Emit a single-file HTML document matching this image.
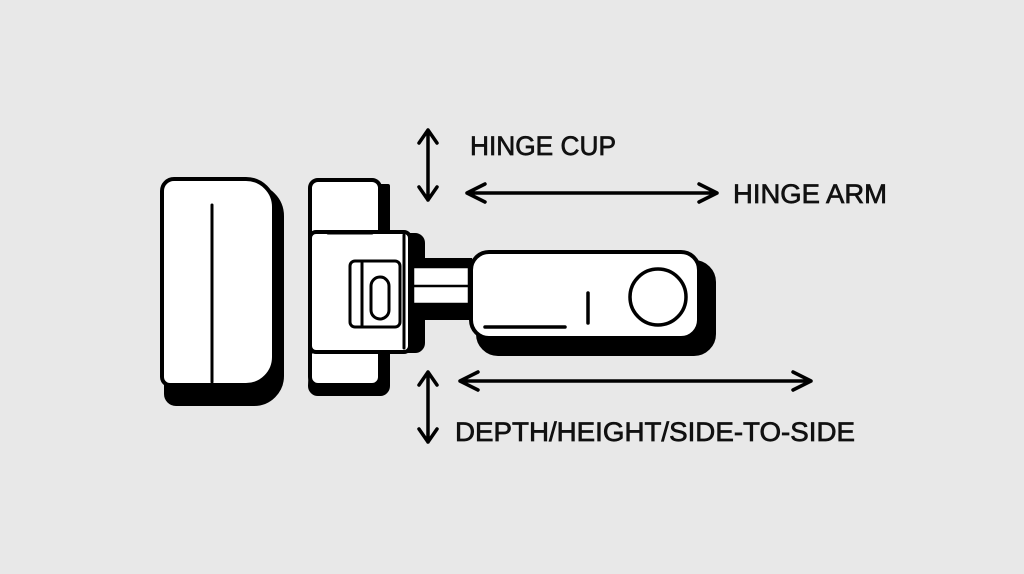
<!DOCTYPE html>
<html><head><style>html,body{margin:0;padding:0;background:#e8e8e8;}svg{display:block}</style></head>
<body>
<svg width="1024" height="574" viewBox="0 0 1024 574" xmlns="http://www.w3.org/2000/svg">
<rect width="1024" height="574" fill="#e8e8e8"/>
<g stroke="#000" stroke-width="4" stroke-linecap="round" stroke-linejoin="round" fill="none">
<path d="M172 186 h80 a30 30 0 0 1 30 30 v160 a28 28 0 0 1 -28 28 h-78 a10 10 0 0 1 -10 -10 v-196 a12 12 0 0 1 12 -12z" fill="#000"/>
<path d="M174 179 h72 a28 28 0 0 1 28 28 v150 a28 28 0 0 1 -28 28 h-76 a8 8 0 0 1 -8 -8 v-186 a12 12 0 0 1 12 -12z" fill="#fff"/>
<line x1="212" y1="205" x2="212" y2="382" stroke-width="3"/>
<path d="M318 186 h70 v200 a8 8 0 0 1 -8 8 h-62 a8 8 0 0 1 -8 -8z" fill="#000"/>
<path d="M330 235 h85 a8 8 0 0 1 8 8 v100 a8 8 0 0 1 -8 8 h-85z" fill="#000"/>
<rect x="310" y="180" width="70" height="205" rx="8" fill="#fff"/>
<rect x="310" y="232" width="100" height="120" rx="6" fill="#fff"/>
<line x1="328" y1="233" x2="372" y2="233" stroke-width="3"/>
<line x1="310" y1="352" x2="372" y2="352" stroke-width="3"/>
<line x1="404" y1="235" x2="404" y2="348" stroke-width="3"/>
<rect x="350" y="261" width="50" height="66" rx="5" stroke-width="3"/>
<line x1="362" y1="262" x2="362" y2="326" stroke-width="3"/>
<rect x="371" y="277" width="18" height="42" rx="9" stroke-width="3" fill="#fff"/>
<rect x="410" y="258" width="62" height="62" fill="#000" stroke="none"/>
<rect x="413" y="285" width="56" height="19" fill="#fff" stroke-width="2.5"/>
<rect x="413" y="267" width="56" height="19" fill="#fff" stroke-width="2.5"/>
<rect x="478" y="262" width="236" height="92" rx="20" fill="#000"/>
<rect x="471" y="252" width="228" height="86" rx="18" fill="#fff"/>
<circle cx="658" cy="297" r="28" fill="#fff" stroke-width="3.5"/>
<line x1="588" y1="293" x2="588" y2="323" stroke-width="3.5"/>
<line x1="485" y1="327" x2="565" y2="327" stroke-width="3.5"/>
<path d="M428 130 V200 M419 143 L428 130 L437 143 M419 187 L428 200 L437 187" stroke-width="3.5"/>
<path d="M467 193 H717 M485 184 L467 193 L485 202 M699 184 L717 193 L699 202" stroke-width="3.5"/>
<path d="M428 372 V442 M419 385 L428 372 L437 385 M419 429 L428 442 L437 429" stroke-width="3.5"/>
<path d="M460 381 H811 M478 372 L460 381 L478 390 M793 372 L811 381 L793 390" stroke-width="3.5"/>
</g>
<g font-family="'Liberation Sans', 'DejaVu Sans', sans-serif" font-size="27" fill="#111" stroke="#111" stroke-width="0.7">
<text x="470" y="155" textLength="146" lengthAdjust="spacingAndGlyphs">HINGE CUP</text>
<text x="733" y="203" textLength="154" lengthAdjust="spacingAndGlyphs">HINGE ARM</text>
<text x="455" y="441" textLength="400" lengthAdjust="spacingAndGlyphs">DEPTH/HEIGHT/SIDE-TO-SIDE</text>
</g>
</svg>
</body></html>
